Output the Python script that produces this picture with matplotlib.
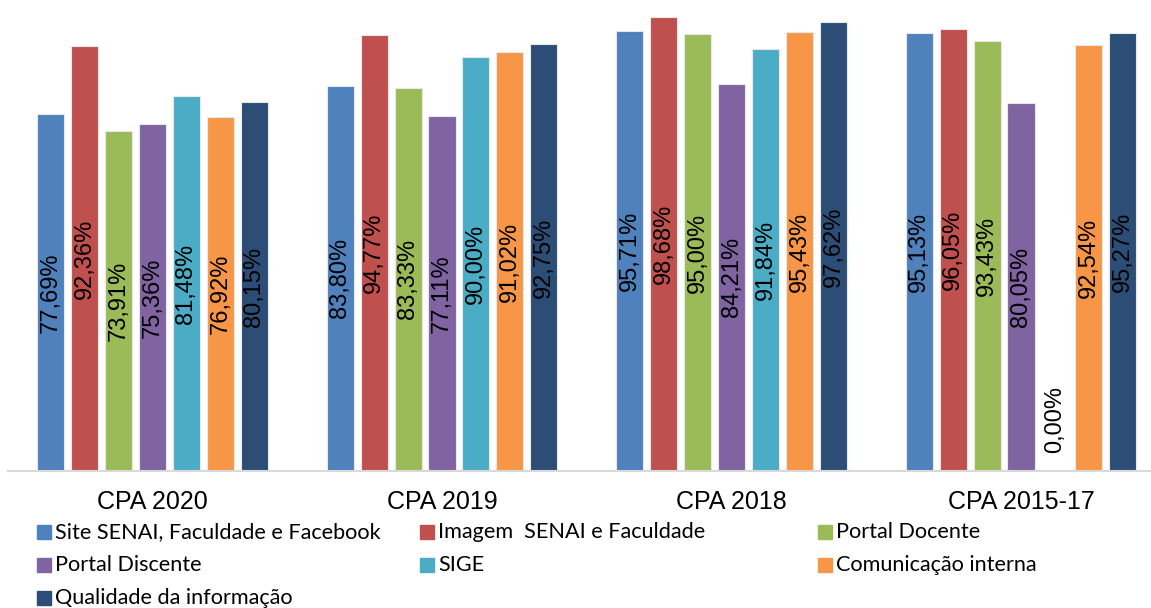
import numpy as np
import matplotlib
matplotlib.use("Agg")
import matplotlib.pyplot as plt
from matplotlib.patches import Rectangle

categories = ["CPA 2020", "CPA 2019", "CPA 2018", "CPA 2015-17"]
series_names = ["Site SENAI, Faculdade e Facebook", "Imagem  SENAI e Faculdade",
                "Portal Docente", "Portal Discente", "SIGE",
                "Comunicação interna", "Qualidade da informação"]
site = [77.69, 83.80, 95.71, 95.13]
imagem = [92.36, 94.77, 98.68, 96.05]
docente = [73.91, 83.33, 95.00, 93.43]
discente = [75.36, 77.11, 84.21, 80.05]
sige = [81.48, 90.00, 91.84, 0.00]
comunicacao = [76.92, 91.02, 95.43, 92.54]
qualidade = [80.15, 92.75, 97.62, 95.27]
values = [site, imagem, docente, discente, sige, comunicacao, qualidade]
colors = ["#4F81BD", "#C0504D", "#9BBB59", "#8064A2", "#4BACC6", "#F79646", "#2C4D75"]

W, H = 1151, 608
fig = plt.figure(figsize=(W / 100, H / 100), dpi=100)
ax = fig.add_axes([7.75 / W, 137 / H, 1158 / W, 460 / H])

x = np.arange(len(categories))
pitch = 0.1174
width = 0.0933
lab_font = ["Liberation Sans", "DejaVu Sans"]
for k, (vals, col) in enumerate(zip(values, colors)):
    pos = x + (k - 3) * pitch
    ax.bar(pos, vals, width, color=col, edgecolor="#e8e8e8", linewidth=0.8, zorder=2)
    for p, v in zip(pos, vals):
        txt = f"{v:.2f}%".replace(".", ",")
        if v > 0:
            ax.text(p, v / 2, txt, rotation=90, ha="center", va="center",
                    fontsize=17, family=lab_font, color="black", zorder=3)
        else:
            ax.text(p, 4, txt, rotation=90, ha="center", va="bottom",
                    fontsize=17, family=lab_font, color="black", zorder=3)

ax.set_xlim(-0.5, len(categories) - 0.5)
ax.set_ylim(0, 100)
ax.set_yticks([])
ax.set_xticks(x)
ax.set_xticklabels(categories, fontsize=18, family=lab_font)
ax.tick_params(axis="x", length=0, pad=14)
for s in ["top", "right", "left"]:
    ax.spines[s].set_visible(False)
ax.spines["bottom"].set_color("#d9d9d9")
ax.spines["bottom"].set_linewidth(1.5)

# legend, three equal columns
col_x = [37, 420, 818]
row_y = [532, 565, 598]
for i, (name, col) in enumerate(zip(series_names, colors)):
    cx = col_x[i % 3]
    cy = row_y[i // 3]
    fig.patches.append(Rectangle((cx / W, (H - cy - 7) / H), 14 / W, 14 / H,
                                 transform=fig.transFigure, color=col, figure=fig))
    fig.text((cx + 18) / W, (H - cy) / H, name, ha="left", va="center",
             fontsize=15.6, family="Lato", color="black")

fig.savefig("out.png", dpi=100)
